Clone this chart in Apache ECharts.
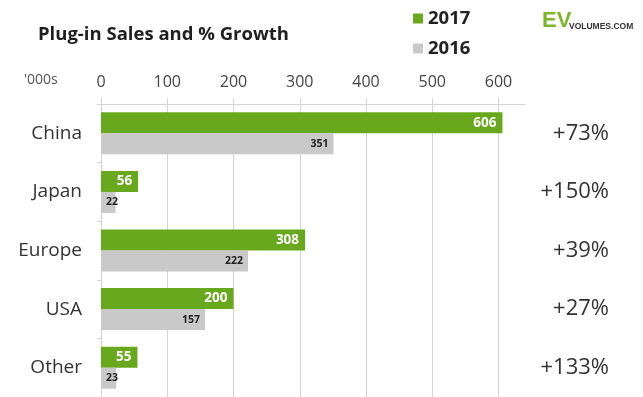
<!DOCTYPE html>
<html>
<head>
<meta charset="utf-8">
<script src="https://cdn.jsdelivr.net/npm/echarts@6/dist/echarts.min.js"></script>
<style>
  html, body { margin: 0; padding: 0; background: #fff; }
  #chart { width: 643px; height: 397px; }
</style>
</head>
<body>
<div id="chart"></div>
<script>
// Plug-in vehicle sales by region, thousands of units
var regions = ['China', 'Japan', 'Europe', 'USA', 'Other'];
var sales2017 = [606, 56, 308, 200, 55];
var sales2016 = [351, 22, 222, 157, 23];
var growthLabels = ['+73%', '+150%', '+39%', '+27%', '+133%'];
var yearNames = ['2017', '2016'];

var GREEN = '#68a81c';
var GREY = '#c9c9c9';
var FONT = '"Open Sans", "Noto Sans", sans-serif';

// Short bars are too narrow for an inside-right label, so anchor those on the left
function withLabelPlacement(values) {
  return values.map(function (v) {
    return v < 40 ? { value: v, label: { position: 'insideLeft', distance: 5 } } : v;
  });
}

var chart = echarts.init(document.getElementById('chart'), null, { renderer: 'canvas' });

chart.setOption({
  backgroundColor: '#ffffff',
  animation: false,
  textStyle: { fontFamily: FONT },
  title: {
    text: 'Plug-in Sales and % Growth',
    left: 33,
    top: 20,
    textStyle: { fontFamily: FONT, fontSize: 18.5, fontWeight: 'bold', color: '#1e1e1e' }
  },
  legend: {
    orient: 'vertical',
    left: 408,
    top: 4,
    itemGap: 11,
    itemWidth: 10,
    itemHeight: 10,
    icon: 'rect',
    data: yearNames,
    textStyle: { fontFamily: FONT, fontSize: 18.5, fontWeight: 'bold', color: '#222' }
  },
  graphic: [
    {
      type: 'text', left: 24, top: 73,
      style: { text: "'000s", font: '14px ' + FONT, fill: '#555' }
    },
    {
      type: 'text', left: 542, top: 10,
      style: { text: 'EV', font: 'bold 22px "Liberation Sans Narrow", "Liberation Sans", sans-serif', fill: '#7cb82a' }
    },
    {
      type: 'text', left: 569, top: 22,
      style: { text: 'VOLUMES.COM', font: 'bold 8.5px "Liberation Sans Narrow", "Liberation Sans", sans-serif', fill: '#333' }
    }
  ],
  grid: {
    left: 101,
    right: 118,
    top: 104,
    height: 297,
    containLabel: false
  },
  xAxis: {
    type: 'value',
    position: 'top',
    min: 0,
    max: 640,
    interval: 100,
    axisLine: { show: true, lineStyle: { color: '#d4d4d4', width: 1 } },
    axisTick: { show: true, length: 6, inside: false, lineStyle: { color: '#d4d4d4' } },
    axisLabel: {
      margin: 14, fontSize: 16, color: '#444', fontFamily: FONT,
      showMaxLabel: false
    },
    splitLine: { show: true, showMaxLine: false, lineStyle: { color: '#d4d4d4', width: 1 } }
  },
  yAxis: [
    {
      type: 'category',
      data: regions,
      inverse: true,
      axisLine: { show: true, lineStyle: { color: '#d4d4d4' } },
      axisTick: { show: true, length: 4, lineStyle: { color: '#d4d4d4' } },
      axisLabel: { margin: 19, fontSize: 19, color: '#333', fontFamily: FONT }
    },
    {
      type: 'category',
      data: growthLabels,
      inverse: true,
      position: 'right',
      axisLine: { show: false },
      axisTick: { show: false },
      axisLabel: { margin: 84, align: 'right', fontSize: 22, color: '#333', fontFamily: FONT }
    }
  ],
  series: [
    {
      name: yearNames[0],
      type: 'bar',
      data: sales2017,
      barWidth: 21,
      barGap: '0%',
      itemStyle: { color: GREEN },
      label: {
        show: true, position: 'insideRight', distance: 6,
        color: '#fff', fontSize: 13.5, fontWeight: 'bold', fontFamily: FONT
      }
    },
    {
      name: yearNames[1],
      type: 'bar',
      data: withLabelPlacement(sales2016),
      barWidth: 21,
      barGap: '0%',
      itemStyle: { color: GREY },
      label: {
        show: true, position: 'insideRight', distance: 5,
        color: '#222', fontSize: 10.5, fontWeight: 'bold', fontFamily: FONT
      }
    }
  ]
});
</script>
</body>
</html>
